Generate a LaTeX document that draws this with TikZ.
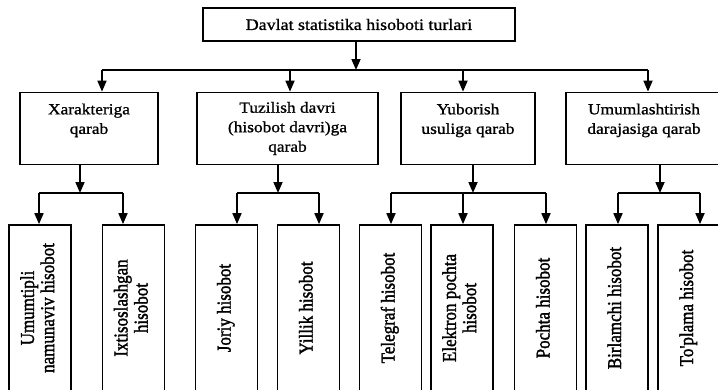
\documentclass[tikz,border=0pt]{standalone}
\usepackage{fontspec}
\setmainfont{Liberation Serif}
\newfontfamily\widefont[FakeStretch=1.12,FakeBold=1]{Liberation Serif}
\newfontfamily\leaffont[FakeBold=1.8]{Liberation Serif}
\usetikzlibrary{arrows.meta}
\tikzset{
  box/.style={draw, line width=1.7pt, inner sep=2pt, align=center,
    font=\widefont\fontsize{15.5}{19.5}\selectfont},
  topbox/.style={draw, line width=1.7pt, inner sep=2pt, align=center,
    font=\widefont\fontsize{16}{20}\selectfont},
  leafbox/.style={draw, line width=1.7pt, inner sep=0pt, minimum width=62pt,
    minimum height=166pt, font=\leaffont\fontsize{17}{17.5}\selectfont},
  arr/.style={line width=1.7pt, -{Triangle[width=9pt,length=11pt]}},
  ln/.style={line width=1.7pt}
}
\newcommand{\vtext}[1]{\rotatebox{90}{\scalebox{1}[1.15]{\begin{tabular}{@{}c@{}}#1\end{tabular}}}}
\begin{document}
\begin{tikzpicture}[x=1pt,y=-1pt]
\useasboundingbox (0,0) rectangle (718,389);
\clip (0,0) rectangle (718,389);
% top
\node[topbox, minimum width=312pt, minimum height=33pt] (top) at (359,24.5) {Davlat statistika hisoboti turlari};
% level 2
\node[box, minimum width=138pt, minimum height=72pt] (b1) at (89,128.5) {Xarakteriga\\qarab\\\mbox{}};
\node[box, minimum width=181pt, minimum height=72pt] (b2) at (287.5,128.5) {Tuzilish davri\\(hisobot davri)ga\\qarab};
\node[box, minimum width=134pt, minimum height=72pt] (b3) at (468,128.5) {Yuborish\\usuliga qarab\\\mbox{}};
\node[box, minimum width=156pt, minimum height=72pt] (b4) at (644,128.5) {Umumlashtirish\\darajasiga qarab\\\mbox{}};
% leaves
\node[leafbox] (l1) at (40,308) {\vtext{Umumtipli\\namunaviv hisobot}};
\node[leafbox] (l2) at (133.5,308) {\vtext{Ixtisoslashgan\\hisobot}};
\node[leafbox] (l3) at (226.5,308) {\vtext{Joriy hisobot}};
\node[leafbox] (l4) at (308.5,308) {\vtext{Yillik hisobot}};
\node[leafbox] (l5) at (390.5,308) {\vtext{Telegraf hisobot}};
\node[leafbox] (l6) at (462,308) {\vtext{Elektron pochta\\hisobot}};
\node[leafbox] (l7) at (545.5,308) {\vtext{Pochta hisobot}};
\node[leafbox] (l8) at (617,308) {\vtext{Birlamchi hisobot}};
\node[leafbox] (l9) at (689,308) {\vtext{To'plama hisobot}};
% level 1 connectors
\coordinate (t0) at (356,70);
\coordinate (h1) at (102,70);
\coordinate (h2) at (290,70);
\coordinate (h3) at (463,70);
\coordinate (h4) at (648,70);
\draw[arr] (top.south -| t0) -- (t0);
\draw[ln] (h1) -- (h4);
\draw[arr] (h1) -- (h1 |- b1.north);
\draw[arr] (h2) -- (h2 |- b2.north);
\draw[arr] (h3) -- (h3 |- b3.north);
\draw[arr] (h4) -- (h4 |- b4.north);
% group 1
\coordinate (g1) at (80,193);
\coordinate (g1a) at (39,193);
\coordinate (g1b) at (123,193);
\draw[arr] (b1.south -| g1) -- (g1);
\draw[ln] (g1a) -- (g1b);
\draw[arr] (g1a) -- (g1a |- l1.north);
\draw[arr] (g1b) -- (g1b |- l2.north);
% group 2
\coordinate (g2) at (278,193);
\coordinate (g2a) at (237,193);
\coordinate (g2b) at (319,193);
\draw[arr] (b2.south -| g2) -- (g2);
\draw[ln] (g2a) -- (g2b);
\draw[arr] (g2a) -- (g2a |- l3.north);
\draw[arr] (g2b) -- (g2b |- l4.north);
% group 3
\coordinate (g3) at (473,193);
\coordinate (g3a) at (391,193);
\coordinate (g3b) at (463,193);
\coordinate (g3c) at (546,193);
\draw[arr] (b3.south -| g3) -- (g3);
\draw[ln] (g3a) -- (g3c);
\draw[arr] (g3a) -- (g3a |- l5.north);
\draw[arr] (g3b) -- (g3b |- l6.north);
\draw[arr] (g3c) -- (g3c |- l7.north);
% group 4
\coordinate (g4) at (660,193);
\coordinate (g4a) at (618,193);
\coordinate (g4b) at (700,193);
\draw[arr] (b4.south -| g4) -- (g4);
\draw[ln] (g4a) -- (g4b);
\draw[arr] (g4a) -- (g4a |- l8.north);
\draw[arr] (g4b) -- (g4b |- l9.north);
\end{tikzpicture}
\end{document}
